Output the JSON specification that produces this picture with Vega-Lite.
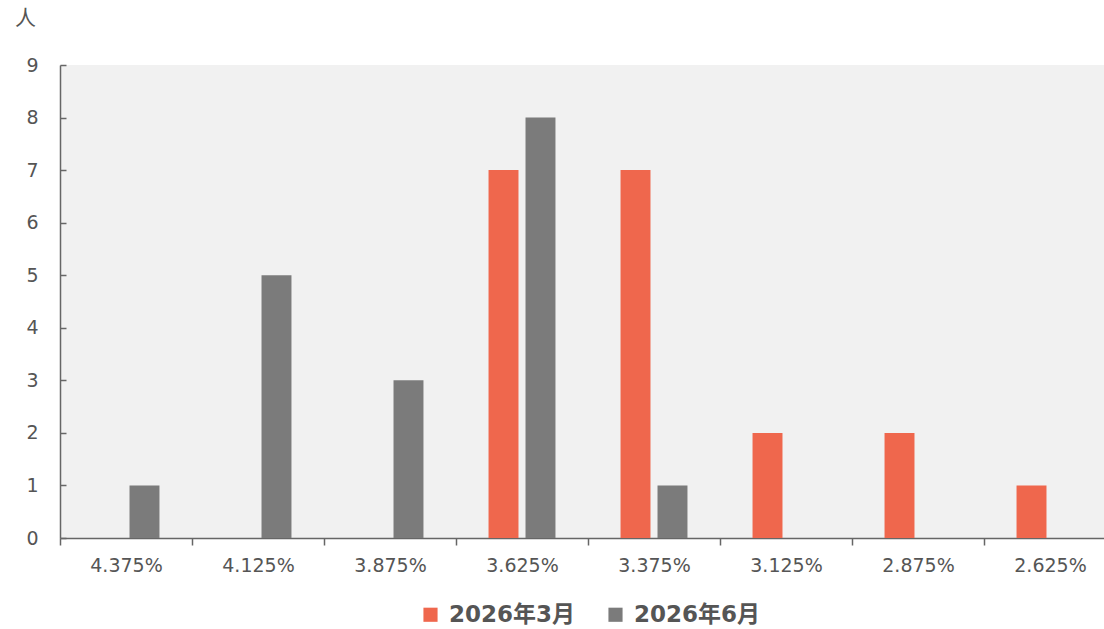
{
  "$schema": "https://vega.github.io/schema/vega-lite/v6.json",
  "autosize": "none",
  "width": 1056,
  "height": 473,
  "padding": {"left": 60, "top": 65, "right": 0, "bottom": 91},
  "background": "white",
  "config": {
    "view": {"fill": "#F1F1F1", "stroke": null},
    "font": "DejaVu Sans, Noto Sans CJK SC"
  },
  "data": {
    "values": [
      {"rate": "4.375%", "series": "2026年3月", "count": 0},
      {"rate": "4.375%", "series": "2026年6月", "count": 1},
      {"rate": "4.125%", "series": "2026年3月", "count": 0},
      {"rate": "4.125%", "series": "2026年6月", "count": 5},
      {"rate": "3.875%", "series": "2026年3月", "count": 0},
      {"rate": "3.875%", "series": "2026年6月", "count": 3},
      {"rate": "3.625%", "series": "2026年3月", "count": 7},
      {"rate": "3.625%", "series": "2026年6月", "count": 8},
      {"rate": "3.375%", "series": "2026年3月", "count": 7},
      {"rate": "3.375%", "series": "2026年6月", "count": 1},
      {"rate": "3.125%", "series": "2026年3月", "count": 2},
      {"rate": "3.125%", "series": "2026年6月", "count": 0},
      {"rate": "2.875%", "series": "2026年3月", "count": 2},
      {"rate": "2.875%", "series": "2026年6月", "count": 0},
      {"rate": "2.625%", "series": "2026年3月", "count": 1},
      {"rate": "2.625%", "series": "2026年6月", "count": 0}
    ]
  },
  "mark": {"type": "bar"},
  "encoding": {
    "x": {
      "field": "rate",
      "type": "nominal",
      "sort": null,
      "scale": {"paddingInner": 0, "paddingOuter": 0},
      "axis": {
        "title": null,
        "labelAngle": 0,
        "labelFontSize": 19,
        "labelColor": "#555555",
        "labelPadding": 11,
        "labelFont": "DejaVu Sans",
        "domainColor": "#666666",
        "domainWidth": 1.5,
        "tickColor": "#666666",
        "tickWidth": 1.5,
        "tickSize": 7,
        "tickBand": "extent",
        "grid": false
      }
    },
    "xOffset": {
      "field": "series",
      "type": "nominal",
      "scale": {"paddingInner": 0.19, "paddingOuter": 0.88}
    },
    "y": {
      "field": "count",
      "type": "quantitative",
      "scale": {"domain": [0, 9], "nice": false},
      "axis": {
        "title": "人",
        "titleAngle": 0,
        "titleX": -35,
        "titleY": -47,
        "titleAlign": "center",
        "titleBaseline": "middle",
        "titleFont": "Noto Sans CJK SC",
        "titleFontSize": 21,
        "titleFontWeight": "normal",
        "titleColor": "#555555",
        "values": [0, 1, 2, 3, 4, 5, 6, 7, 8, 9],
        "labelFont": "DejaVu Sans",
        "labelFontSize": 19,
        "labelColor": "#555555",
        "labelPadding": 28,
        "domainColor": "#666666",
        "domainWidth": 1.5,
        "tickColor": "#666666",
        "tickWidth": 1.5,
        "tickSize": -6,
        "grid": false
      }
    },
    "color": {
      "field": "series",
      "type": "nominal",
      "scale": {"domain": ["2026年3月", "2026年6月"], "range": ["#EF674D", "#7B7B7B"]},
      "legend": {
        "title": null,
        "orient": "none",
        "direction": "horizontal",
        "legendX": 359,
        "legendY": 538,
        "symbolType": "square",
        "symbolSize": 200,
        "symbolStrokeWidth": 0,
        "labelFont": "DejaVu Sans, Noto Sans CJK SC",
        "labelFontSize": 23,
        "labelFontWeight": "bold",
        "labelColor": "#555555",
        "labelOffset": 7,
        "columnPadding": 28
      }
    }
  }
}
